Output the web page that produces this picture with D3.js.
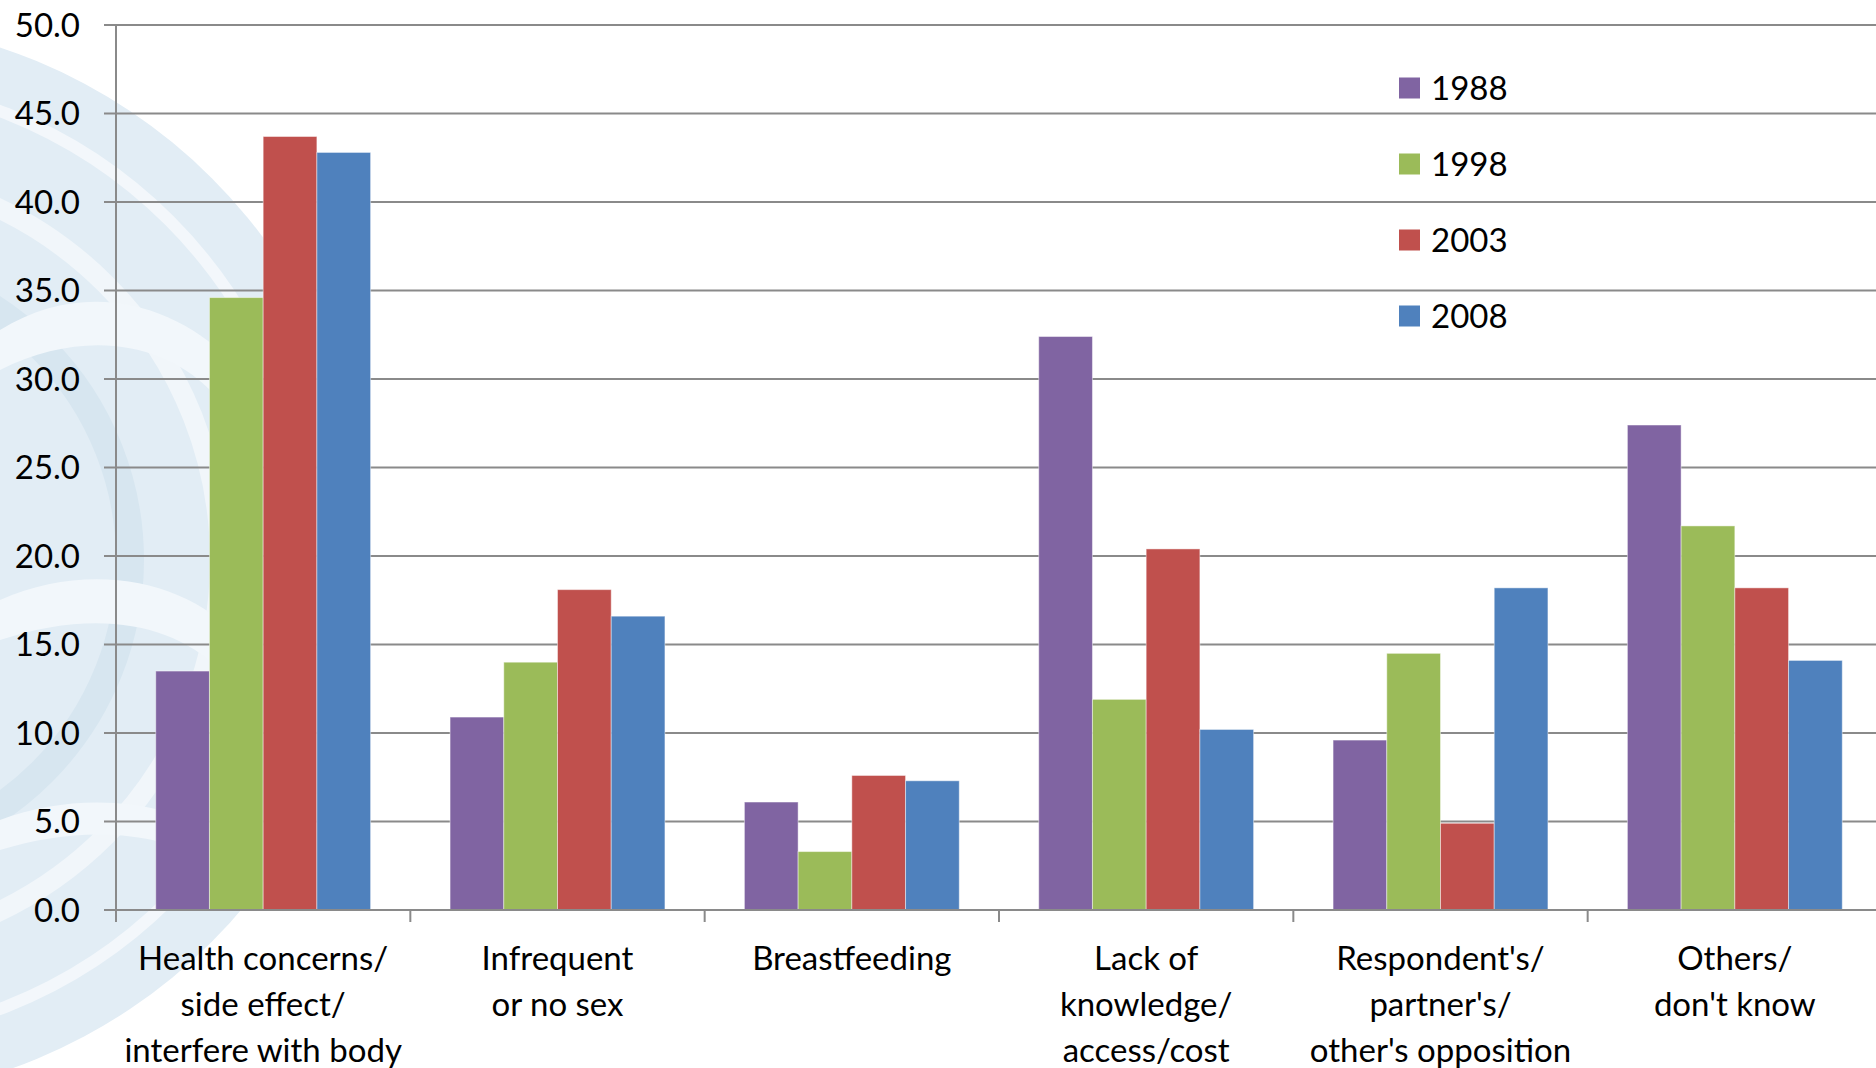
<!DOCTYPE html>
<html>
<head>
<meta charset="utf-8">
<script src="https://cdn.jsdelivr.net/npm/d3@7"></script>
<style>
  html, body { margin: 0; padding: 0; background: #ffffff; overflow: hidden; }
  svg { display: block; }
  text { font-family: Lato, "Open Sans", sans-serif; fill: #000; }
</style>
</head>
<body>
<svg id="chart" width="1876" height="1068"></svg>
<script>
// Reasons for not using contraception, % by survey year
const categories = [
  ["Health concerns/", "side effect/", "interfere with body"],
  ["Infrequent", "or no sex"],
  ["Breastfeeding"],
  ["Lack of", "knowledge/", "access/cost"],
  ["Respondent's/", "partner's/", "other's opposition"],
  ["Others/", "don't know"]
];
const years = ["1988", "1998", "2003", "2008"];
const values1988 = [13.5, 10.9, 6.1, 32.4, 9.6, 27.4];
const values1998 = [34.6, 14.0, 3.3, 11.9, 14.5, 21.7];
const values2003 = [43.7, 18.1, 7.6, 20.4, 4.9, 18.2];
const values2008 = [42.8, 16.6, 7.3, 10.2, 18.2, 14.1];
const yTicks = [0, 5, 10, 15, 20, 25, 30, 35, 40, 45, 50];

const seriesValues = [values1988, values1998, values2003, values2008];
const colors = ["#8064A2", "#9BBB59", "#C0504D", "#4F81BD"];

const svg = d3.select("#chart");
const W = 1876, H = 1068;
// the plot area runs slightly past the right edge of the page
const m = { left: 116, right: -6, top: 25, bottom: 158 };

// faint seal watermark on the left
const wm = svg.append("g").attr("class", "watermark");
wm.append("circle").attr("cx", -170).attr("cy", 560).attr("r", 540).attr("fill", "#e2edf5");
wm.append("circle").attr("cx", -170).attr("cy", 560).attr("r", 480)
  .attr("fill", "none").attr("stroke", "#f3f7fb").attr("stroke-width", 12);
wm.append("circle").attr("cx", -170).attr("cy", 560).attr("r", 390)
  .attr("fill", "none").attr("stroke", "#f1f6fa").attr("stroke-width", 20);
wm.append("circle").attr("cx", -170).attr("cy", 560).attr("r", 300)
  .attr("fill", "none").attr("stroke", "#d7e6f0").attr("stroke-width", 28);
wm.append("path").attr("d", "M0,330 C80,280 170,300 230,360 L210,390 C160,340 80,330 0,370 Z").attr("fill", "#f2f7fb");
wm.append("path").attr("d", "M0,600 C90,560 190,580 240,640 L220,670 C170,620 90,610 0,640 Z").attr("fill", "#f2f7fb");
wm.append("path").attr("d", "M0,820 C80,790 170,800 230,840 L215,865 C160,830 80,825 0,850 Z").attr("fill", "#f2f7fb");

const x = d3.scaleBand()
  .domain(d3.range(categories.length))
  .range([m.left, W - m.right])
  .paddingInner(0).paddingOuter(0);

const y = d3.scaleLinear().domain([0, 50]).range([H - m.bottom, m.top]);

const groupW = x.bandwidth() * 0.73;
const xs = d3.scaleBand().domain(years).range([0, groupW]).padding(0);

const gridColor = "#8a8a8a";

// gridlines with left tick stubs
svg.append("g")
  .selectAll("line")
  .data(yTicks.filter(d => d > 0))
  .join("line")
  .attr("x1", m.left - 12).attr("x2", W)
  .attr("y1", d => y(d)).attr("y2", d => y(d))
  .attr("stroke", gridColor).attr("stroke-width", 2);

// y-axis tick labels
svg.append("g")
  .selectAll("text")
  .data(yTicks)
  .join("text")
  .attr("x", 80).attr("y", d => y(d))
  .attr("dy", "0.36em")
  .attr("text-anchor", "end")
  .attr("font-size", 33)
  .text(d => d3.format(".1f")(d));

// bars
const groups = svg.append("g")
  .selectAll("g")
  .data(categories.map((c, i) => i))
  .join("g")
  .attr("transform", i => `translate(${x(i) + (x.bandwidth() - groupW) / 2},0)`);

groups.selectAll("rect")
  .data(i => years.map((yr, s) => ({ yr, s, v: seriesValues[s][i] })))
  .join("rect")
  .attr("x", d => xs(d.yr))
  .attr("width", xs.bandwidth())
  .attr("y", d => y(d.v))
  .attr("height", d => y(0) - y(d.v))
  .attr("fill", d => colors[d.s])
  .attr("stroke", "rgba(255,255,255,0.45)")
  .attr("stroke-width", 1);

// axes
svg.append("line")
  .attr("x1", m.left).attr("x2", m.left)
  .attr("y1", y(50)).attr("y2", y(0) + 12)
  .attr("stroke", gridColor).attr("stroke-width", 2);
svg.append("line")
  .attr("x1", m.left - 12).attr("x2", W)
  .attr("y1", y(0)).attr("y2", y(0))
  .attr("stroke", gridColor).attr("stroke-width", 2);
svg.append("g")
  .selectAll("line")
  .data(d3.range(1, categories.length))
  .join("line")
  .attr("x1", i => x(i)).attr("x2", i => x(i))
  .attr("y1", y(0)).attr("y2", y(0) + 12)
  .attr("stroke", gridColor).attr("stroke-width", 2);

// category labels
const lab = svg.append("g")
  .selectAll("text")
  .data(categories)
  .join("text")
  .attr("text-anchor", "middle")
  .attr("font-size", 33)
  .attr("x", (d, i) => x(i) + x.bandwidth() / 2)
  .attr("y", 970);
lab.selectAll("tspan")
  .data(d => d)
  .join("tspan")
  .attr("x", function () { return this.parentNode.getAttribute("x"); })
  .attr("dy", (d, j) => j === 0 ? 0 : 46)
  .text(d => d);

// legend
const leg = svg.append("g")
  .selectAll("g")
  .data(years)
  .join("g")
  .attr("transform", (d, i) => `translate(1399,${88 + i * 76})`);
leg.append("rect")
  .attr("x", 0).attr("y", -10.5)
  .attr("width", 21).attr("height", 21)
  .attr("fill", (d, i) => colors[i]);
leg.append("text")
  .attr("x", 32).attr("y", 0).attr("dy", "0.36em")
  .attr("font-size", 33)
  .text(d => d);
</script>
</body>
</html>
